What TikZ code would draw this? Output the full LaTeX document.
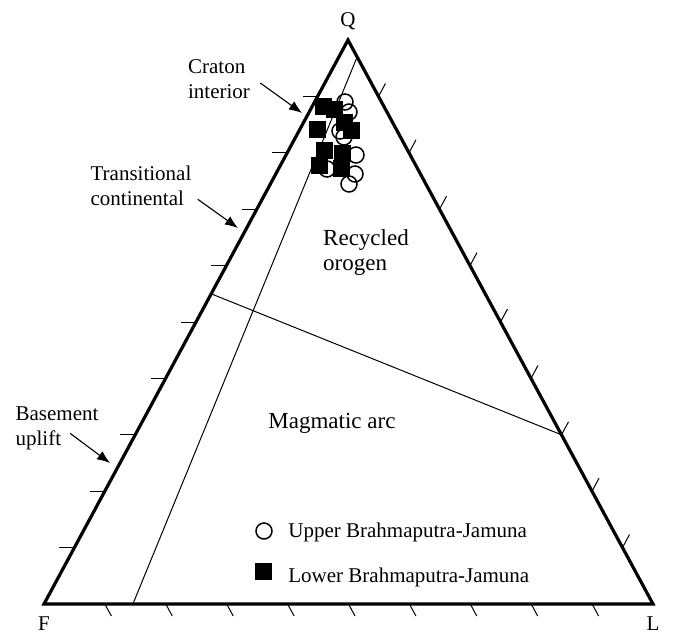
\documentclass[tikz,border=0pt]{standalone}
\usepackage{fontspec}
\setmainfont{Liberation Serif}
\usetikzlibrary{arrows.meta,calc,positioning}
\tikzset{
  sideline/.style={black, line width=1.6pt, line join=miter},
  fieldline/.style={black, line width=0.5pt},
  axistick/.style={black, line width=0.5pt},
  pointer/.style={black, line width=0.55pt, -{Latex[length=6.5pt,width=5pt]}},
  sidelabel/.style={align=left, inner sep=0pt, font=\fontsize{10.5pt}{12.5pt}\selectfont},
  fieldlabel/.style={align=left, inner sep=0pt, font=\fontsize{11.5pt}{12.5pt}\selectfont},
  cornerlabel/.style={inner sep=0pt, font=\fontsize{10.5pt}{12.5pt}\selectfont},
  upperpt/.style={circle, draw=black, line width=0.75pt, inner sep=0pt, minimum size=8pt},
  lowerpt/.style={rectangle, fill=black, inner sep=0pt, minimum size=8.5pt}
}
\begin{document}
\begin{tikzpicture}[x=0.5pt, y=-0.5pt]
  \useasboundingbox (0,0) rectangle (677,634);
  % corners of the QFL triangle
  \coordinate (F) at (44,604);
  \coordinate (L) at (653,604);
  \coordinate (Q) at (348,40);
  \node[cornerlabel, anchor=base] (qlabel) at (348,26) {Q};
  \node[cornerlabel, anchor=base] (flabel) at (44,630) {F};
  \node[cornerlabel, anchor=base] (llabel) at (653,630) {L};
  % field boundaries
  \coordinate (fl15) at ($(F)!0.146!(L)$);
  \coordinate (ql03) at ($(Q)!0.03!(L)$);
  \coordinate (fq55) at ($(F)!0.55!(Q)$);
  \coordinate (lq30) at ($(L)!0.3!(Q)$);
  \draw[fieldline] (fl15) -- (ql03);
  \draw[fieldline] (fq55) -- (lq30);
  % ticks every 10 %
  \foreach \k in {1,...,9}{
    \draw[axistick] ($(F)!\k/10!(L)$) -- ++(6.5,12);
    \draw[axistick] ($(F)!\k/10!(Q)$) -- ++(-15,0);
    \draw[axistick] ($(L)!\k/10!(Q)$) -- ++(7,-13);
  }
  \draw[sideline] (F) -- (Q) -- (L) -- cycle;
  % provenance fields
  \node[fieldlabel] (recycled) at (366,252) {Recycled\\orogen};
  \node[fieldlabel, anchor=base west] (magmatic) at (268,428) {Magmatic arc};
  \node[sidelabel] (craton) at (219,79) {Craton\\interior};
  \node[sidelabel] (transitional) at (141,186) {Transitional\\continental};
  \node[sidelabel] (basement) at (57,428) {Basement\\uplift};
  \coordinate (cratontip) at (302,113);
  \coordinate (transtip) at (238,228);
  \coordinate (basetip) at (110,463);
  \draw[pointer] ([xshift=5pt,yshift=-2pt]craton.east) -- (cratontip);
  \draw[pointer] ([xshift=3pt,yshift=3.5pt]transitional.south east) -- (transtip);
  \draw[pointer] ([xshift=27.5pt,yshift=8.3pt]basement.south west) -- (basetip);
  % samples
  \foreach \p [count=\i] in {(345,102),(349,112),(340,131),(344,137),(356,155),(355,174),(349,184),(327,169)}
    \node[upperpt] (up\i) at \p {};
  \foreach \p [count=\i] in {(324,106),(335,109),(345,122),(352,130),(318,129),(325,150),(320,165),(343,153),(342,168)}
    \node[lowerpt] (low\i) at \p {};
  % legend
  \node[upperpt] (keyup) at (264,531) {};
  \node[sidelabel, anchor=base west] (keyuptext) at (288,537) {Upper Brahmaputra-Jamuna};
  \node[lowerpt] (keylow) at (264,571) {};
  \node[sidelabel, anchor=base west] (keylowtext) at (288,582) {Lower Brahmaputra-Jamuna};
\end{tikzpicture}
\end{document}
